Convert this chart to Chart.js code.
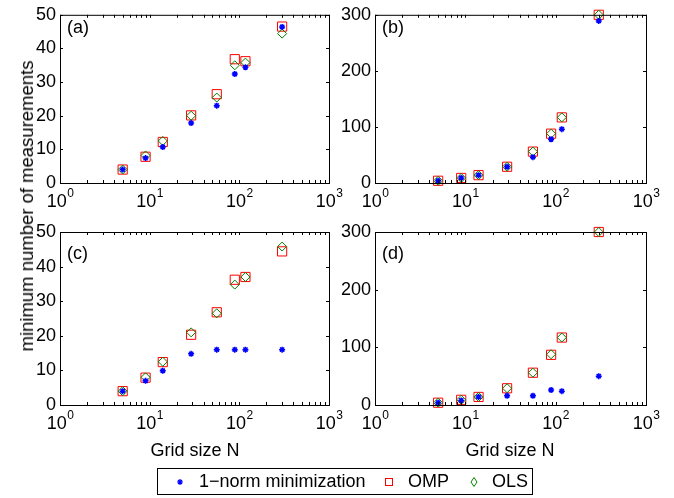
<!DOCTYPE html>
<html>
<head>
<meta charset="utf-8">
<script src="https://cdn.jsdelivr.net/npm/chart.js@4.4.1/dist/chart.umd.min.js"></script>
<style>
  body { margin: 0; background: #fff; font-family: "Liberation Sans", Arial, Helvetica, sans-serif; }
  #wrap { position: relative; width: 674px; height: 498px; overflow: hidden; }
  #wrap canvas { position: absolute; left: 0; top: 0; }
  .txt { position: absolute; font-size: 18px; line-height: 18px; color: #000; white-space: nowrap; }
  #legend { position: absolute; left: 157px; top: 468px; width: 376px; height: 27px; border: 1px solid #000; box-sizing: border-box; background: #fff; }
  #legend .item { position: absolute; top: 0; font-size: 18px; line-height: 25px; }
  #legend svg { position: absolute; }
</style>
</head>
<body>
<div id="wrap">
  <canvas id="pa" width="674" height="498"></canvas>
  <canvas id="pb" width="674" height="498"></canvas>
  <canvas id="pc" width="674" height="498"></canvas>
  <canvas id="pd" width="674" height="498"></canvas>

  <div class="txt" style="left:67px; top:18px;">(a)</div>
  <div class="txt" style="left:382px; top:18px;">(b)</div>
  <div class="txt" style="left:67px; top:244px;">(c)</div>
  <div class="txt" style="left:382px; top:244px;">(d)</div>

  <div class="txt" style="left:27px; top:206px; font-size:18.5px; transform: translate(-50%,-50%) rotate(-90deg);">minimum number of measurements</div>
  <div class="txt" style="left:195px; top:441px; transform: translateX(-50%);">Grid size N</div>
  <div class="txt" style="left:510px; top:441px; transform: translateX(-50%);">Grid size N</div>

  <div id="legend">
    <svg style="left:18px; top:9px;" width="8" height="8" viewBox="0 0 8 8">
      <path d="M4 1V7M1 4H7M2 2L6 6M6 2L2 6" stroke="#0000ff" stroke-width="1.2"/>
    </svg>
    <div class="item" style="left:41px;">1−norm minimization</div>
    <svg style="left:227px; top:9px;" width="8" height="8" viewBox="0 0 8 8">
      <rect x="0.5" y="0.5" width="7" height="7" fill="none" stroke="#ff0000" stroke-width="1"/>
    </svg>
    <div class="item" style="left:250px;">OMP</div>
    <svg style="left:312px; top:8px;" width="8" height="10" viewBox="0 0 8 10">
      <path d="M4 0.5L7 5L4 9.5L1 5Z" fill="none" stroke="#008000" stroke-width="1"/>
    </svg>
    <div class="item" style="left:334px;">OLS</div>
  </div>
</div>

<script>
// grid sizes (x values, shared by all panels)
const gridN = [5, 9, 14, 29, 56, 89, 117, 300];

// (a)
const aL1  = [4, 7.4, 10.7, 17.8, 23, 32.4, 34.4, 46.4];
const aOMP = [4, 7.8, 12.2, 20.1, 26.4, 36.8, 36.2, 46.5];
const aOLS = [4, 8.2, 12.5, 20, 25.4, 35, 35.8, 44.4];

// (b)
const bL1  = [4, 9, 14, 29, 46, 78, 96, 289];
const bOMP = [4, 9, 14, 29, 56, 88, 117, 300];
const bOLS = [4, 9, 14, 29, 56, 88, 117, 300];

// (c)
const cL1  = [4, 7, 9.9, 14.8, 16, 16, 16, 16];
const cOMP = [4, 7.9, 12.4, 20.3, 26.8, 36.2, 37, 44.4];
const cOLS = [4, 8, 12.5, 21, 26.5, 34.8, 37, 45.8];

// (d)
const dL1  = [4, 8, 14, 16, 16, 26, 24, 50];
const dOMP = [4, 9, 14, 29, 56, 87, 117, 300];
const dOLS = [4, 9, 14, 29, 56, 88, 117, 300];

// axis ticks
const xTickValues = [1, 10, 100, 1000];
const xTickExps = ['0', '1', '2', '3'];
const yTicksSmall = [0, 10, 20, 30, 40, 50];
const yTicksLarge = [0, 100, 200, 300];

const FONT = '"Liberation Sans", Arial, Helvetica, sans-serif';
const W = 674, H = 498;
const Y_AXIS_W = 50, X_AXIS_H = 30;
const TICK = 3;

// plot area of each panel in page pixels
const boxes = {
    pa: { left: 60, right: 329, top: 8, bottom: 183 },
    pb: { left: 375, right: 646, top: 8, bottom: 183 },
    pc: { left: 60, right: 329, top: 232, bottom: 405 },
    pd: { left: 375, right: 646, top: 232, bottom: 405 }
};

// MATLAB-like box with inward ticks and 10^n labels
const matlabAxes = {
    id: 'matlabAxes',
    afterDraw(chart) {
        const { ctx, chartArea: a, scales: { x, y } } = chart;
        ctx.save();
        ctx.strokeStyle = '#000';
        ctx.lineWidth = 1;
        ctx.beginPath();
        y.ticks.forEach(t => {
            const py = Math.round(y.getPixelForValue(t.value)) + 0.5;
            ctx.moveTo(a.left, py); ctx.lineTo(a.left + TICK, py);
            ctx.moveTo(a.right, py); ctx.lineTo(a.right - TICK, py);
        });
        const minor = [];
        for (let d = 1; d < 1000; d *= 10) {
            for (let k = 1; k < 10; k++) minor.push(d * k);
        }
        minor.push(1000);
        minor.forEach(v => {
            const px = Math.round(x.getPixelForValue(v)) + 0.5;
            ctx.moveTo(px, a.bottom); ctx.lineTo(px, a.bottom - TICK);
            ctx.moveTo(px, a.top); ctx.lineTo(px, a.top + TICK);
        });
        ctx.stroke();
        ctx.strokeRect(a.left + 0.5, a.top + 0.5, a.right - a.left, a.bottom - a.top);

        ctx.fillStyle = '#000';
        ctx.textBaseline = 'alphabetic';
        ctx.textAlign = 'left';
        xTickValues.forEach((v, i) => {
            const px = x.getPixelForValue(v);
            ctx.font = '18px ' + FONT;
            const wb = ctx.measureText('10').width;
            ctx.font = '12px ' + FONT;
            const we = ctx.measureText(xTickExps[i]).width;
            const sx = px - (wb + we) / 2;
            ctx.font = '18px ' + FONT;
            ctx.fillText('10', sx, a.bottom + 24);
            ctx.font = '12px ' + FONT;
            ctx.fillText(xTickExps[i], sx + wb + 0.5, a.bottom + 14);
        });
        ctx.restore();
    }
};

function toPoints(ys) {
    return gridN.map((n, i) => ({ x: n, y: ys[i] }));
}

function makePanel(id, l1, omp, ols, yMax, yTicks) {
    const b = boxes[id];
    new Chart(document.getElementById(id), {
        type: 'scatter',
        data: {
            datasets: [
                { label: '1-norm minimization', data: toPoints(l1), order: 0, clip: false,
                  pointStyle: 'star', pointRadius: 3, borderWidth: 1.5,
                  borderColor: '#0000ff', backgroundColor: '#0000ff' },
                { label: 'OLS', data: toPoints(ols), order: 1, clip: false,
                  pointStyle: 'rectRot', pointRadius: 4.5, borderWidth: 1,
                  borderColor: '#008000', backgroundColor: 'rgba(0,0,0,0)' },
                { label: 'OMP', data: toPoints(omp), order: 2, clip: false,
                  pointStyle: 'rect', pointRadius: 6.5, borderWidth: 1,
                  borderColor: '#ff0000', backgroundColor: 'rgba(0,0,0,0)' }
            ]
        },
        options: {
            responsive: false,
            animation: false,
            events: [],
            layout: {
                padding: {
                    left: b.left - Y_AXIS_W,
                    top: b.top,
                    right: W - b.right,
                    bottom: H - b.bottom - X_AXIS_H
                }
            },
            plugins: { legend: { display: false }, tooltip: { enabled: false } },
            scales: {
                x: {
                    type: 'logarithmic', min: 1, max: 1000,
                    grid: { display: false, drawTicks: false },
                    border: { display: false },
                    ticks: { display: false },
                    afterFit: s => { s.height = X_AXIS_H; }
                },
                y: {
                    min: 0, max: yMax,
                    grid: { display: false, drawTicks: false },
                    border: { display: false },
                    ticks: { color: '#000', padding: 4, font: { size: 18, family: FONT } },
                    afterBuildTicks: s => { s.ticks = yTicks.map(v => ({ value: v })); },
                    afterFit: s => { s.width = Y_AXIS_W; }
                }
            }
        },
        plugins: [matlabAxes]
    });
}

makePanel('pa', aL1, aOMP, aOLS, 50, yTicksSmall);
makePanel('pb', bL1, bOMP, bOLS, 300, yTicksLarge);
makePanel('pc', cL1, cOMP, cOLS, 50, yTicksSmall);
makePanel('pd', dL1, dOMP, dOLS, 300, yTicksLarge);
</script>
</body>
</html>
